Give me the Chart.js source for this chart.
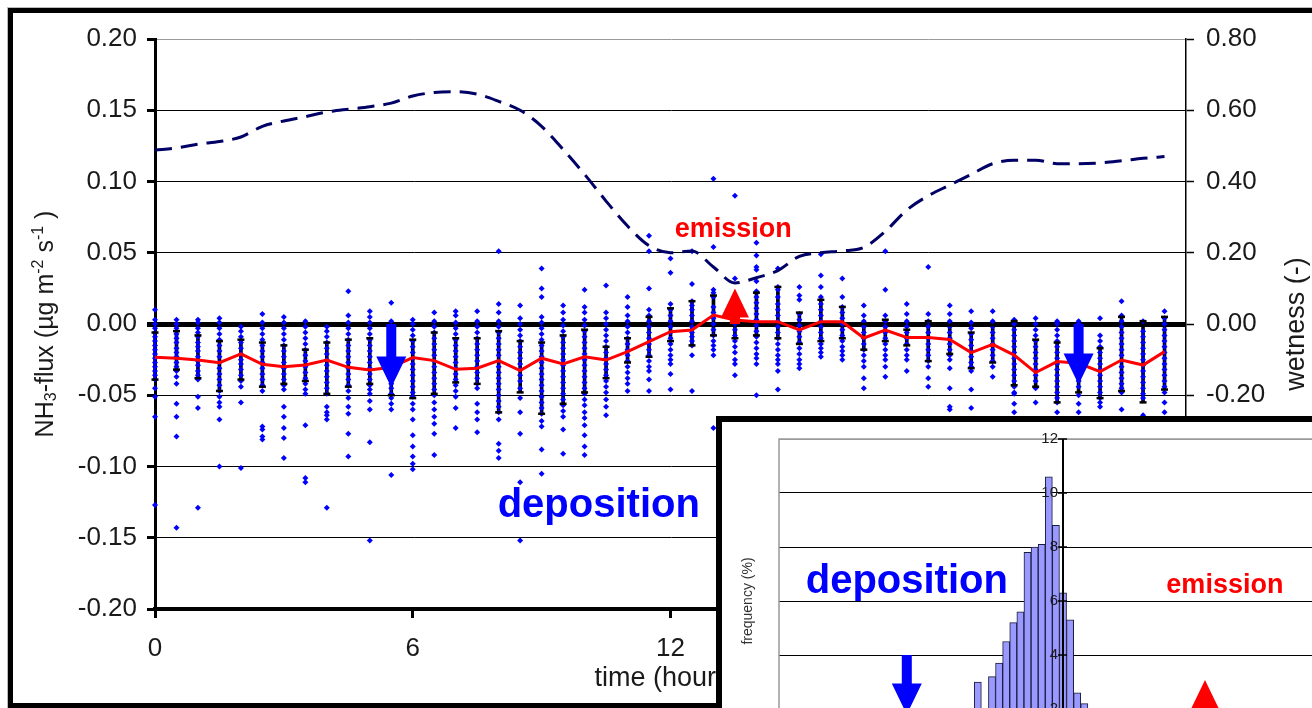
<!DOCTYPE html>
<html>
<head>
<meta charset="utf-8">
<script src="https://cdn.jsdelivr.net/npm/chart.js@4.4.1/dist/chart.umd.min.js"></script>
<style>
  html, body { margin: 0; padding: 0; background: #fff; }
  body { width: 1312px; height: 708px; overflow: hidden; position: relative; }
  #frame { position: absolute; left: 8px; top: 8px; width: 1400px; height: 690px; border: 5px solid #000; box-shadow: 0 0 0 1px #bbb; }
  #main { position: absolute; left: 0; top: 0; }
  #insetBox { position: absolute; left: 716px; top: 416px; width: 700px; height: 400px; border: 6px solid #000; background: #fff; }
  #inset { position: absolute; left: 0; top: 0; }
</style>
</head>
<body>
<div id="frame"></div>
<canvas id="main" width="1312" height="708"></canvas>
<div id="insetBox"><canvas id="inset" width="680" height="400"></canvas></div>
<script>
// half-hour bins of the day
const hours = [0, 0.5, 1, 1.5, 2, 2.5, 3, 3.5, 4, 4.5, 5, 5.5, 6, 6.5, 7, 7.5, 8, 8.5, 9, 9.5, 10, 10.5, 11, 11.5,
  12, 12.5, 13, 13.5, 14, 14.5, 15, 15.5, 16, 16.5, 17, 17.5, 18, 18.5, 19, 19.5, 20, 20.5, 21, 21.5, 22, 22.5, 23, 23.5];
const hourTicks = [0, 6, 12, 18, 24];

// single NH3 flux observations per bin, in 0.001 µg m-2 s-1
const fluxObs = [
  [10, 3, 0, -3, -6, -9, -12, -15, -18, -21, -24, -27, -30, -33, -36, -39, -45, -51, -65, -127],
  [3, 0, -3, -7, -10, -13, -17, -20, -23, -27, -30, -33, -37, -42, -56, -65, -79, -143],
  [3, 1, -3, -6, -9, -13, -16, -19, -23, -26, -29, -33, -36, -39, -51, -59, -129],
  [4, 1, -3, -7, -11, -15, -19, -23, -27, -31, -35, -39, -43, -47, -51, -55, -58, -67, -100],
  [-2, -5, -9, -13, -17, -21, -25, -28, -32, -36, -40, -44, -55, -101],
  [7, 1, -3, -7, -11, -15, -19, -23, -27, -31, -35, -39, -43, -47, -72, -74, -79, -81],
  [5, 1, -3, -7, -11, -15, -19, -23, -27, -31, -35, -39, -43, -46, -58, -65, -73, -80, -94],
  [2, -2, -6, -10, -14, -18, -22, -26, -30, -34, -38, -42, -46, -49, -71, -108, -111],
  [-2, -5, -9, -13, -17, -21, -25, -29, -33, -37, -41, -45, -49, -58, -62, -64, -67, -129],
  [23, 6, 1, -3, -7, -11, -15, -19, -23, -27, -31, -35, -39, -43, -47, -52, -58, -63, -77, -93],
  [9, 5, 1, -3, -7, -11, -15, -19, -23, -27, -31, -35, -39, -43, -46, -49, -54, -60, -83, -152],
  [15, 2, -2, -6, -10, -14, -18, -22, -26, -30, -34, -38, -42, -45, -49, -52, -56, -60, -106],
  [3, 0, -4, -8, -12, -16, -20, -24, -28, -32, -36, -40, -44, -48, -51, -56, -60, -67, -78, -86, -93, -98, -102],
  [8, 2, -2, -6, -10, -14, -18, -22, -26, -30, -34, -38, -42, -46, -50, -55, -60, -65, -70, -77, -92],
  [9, 6, 1, -3, -7, -11, -15, -19, -23, -27, -31, -35, -39, -43, -47, -51, -59, -73],
  [9, 2, -2, -6, -10, -14, -18, -22, -26, -30, -34, -38, -42, -45, -56, -62, -67, -76],
  [51, 14, 8, 2, -2, -6, -10, -14, -18, -22, -26, -30, -34, -38, -42, -46, -50, -54, -58, -62, -67, -84, -89, -94],
  [13, 4, 0, -4, -8, -12, -16, -20, -24, -28, -32, -36, -40, -45, -52, -62, -77, -111, -152],
  [39, 25, 19, 5, 1, -3, -7, -11, -15, -19, -23, -27, -31, -35, -39, -43, -47, -51, -55, -59, -63, -68, -72, -88, -105],
  [13, 8, 3, -1, -5, -9, -13, -17, -21, -25, -29, -33, -37, -41, -45, -49, -53, -57, -61, -65, -74, -91],
  [24, 12, 8, 3, -1, -5, -9, -13, -17, -21, -25, -29, -33, -37, -41, -45, -49, -53, -57, -62, -66, -71, -78, -86, -92],
  [27, 8, 4, 0, -4, -8, -12, -16, -20, -24, -28, -32, -36, -40, -44, -48, -53, -58, -64],
  [19, 12, 6, 2, -2, -6, -10, -14, -18, -22, -26, -30, -34, -38, -42, -47],
  [62, 51, 25, 10, 6, 2, -2, -6, -10, -14, -18, -22, -26, -30, -33, -39, -47],
  [46, 36, 14, 10, 6, 2, -2, -6, -10, -14, -18, -22, -25, -28, -35, -46],
  [51, 28, 16, 13, 10, 6, 2, -2, -6, -9, -12, -15, -22, -47],
  [102, 54, 24, 22, 19, 12, 8, 4, 0, -4, -8, -12, -15, -18, -22, -73],
  [90, 32, 20, 12, 8, 4, 0, -4, -8, -12, -16, -20, -25, -28, -36],
  [57, 48, 40, 38, 30, 23, 19, 15, 11, 7, 3, -1, -5, -9, -13, -17, -21, -24, -28, -50],
  [39, 26, 24, 19, 14, 10, 6, 2, -2, -6, -10, -14, -18, -22, -25, -28, -33, -46],
  [26, 20, 17, 7, 3, -1, -5, -9, -13, -17, -21, -25, -28, -31],
  [49, 34, 26, 19, 14, 10, 6, 2, -2, -6, -10, -14, -17, -20, -23],
  [32, 19, 12, 8, 4, 0, -4, -8, -12, -16, -19, -22, -25],
  [13, 6, 2, -2, -6, -10, -14, -18, -22, -26, -30, -38, -45],
  [51, 24, 6, 2, -2, -6, -10, -14, -18, -22, -25, -30, -37],
  [14, 7, 2, -2, -6, -10, -14, -18, -22, -25, -33],
  [40, 7, 2, -2, -6, -10, -14, -18, -22, -26, -30, -38, -44],
  [13, 7, 2, -2, -6, -10, -14, -18, -22, -25, -31, -45, -58, -60],
  [9, 1, -3, -7, -11, -15, -19, -23, -27, -30, -33, -46, -59],
  [9, 2, -2, -6, -10, -14, -18, -22, -26, -30, -37],
  [3, 0, -4, -8, -12, -16, -20, -24, -28, -32, -36, -40, -44, -48, -49, -56, -62],
  [4, 0, -4, -8, -12, -16, -20, -24, -28, -32, -36, -40, -45, -55],
  [2, 0, -4, -8, -12, -16, -20, -24, -28, -32, -36, -40, -44, -48, -52, -55, -62],
  [2, 0, -4, -8, -12, -16, -20, -24, -28, -32, -36, -40, -44, -50, -56, -62],
  [4, -8, -12, -16, -20, -24, -28, -32, -36, -40, -44, -48, -52, -55, -58],
  [16, 6, 2, -2, -6, -10, -14, -18, -22, -26, -30, -34, -38, -42, -45, -48, -60],
  [2, -5, -9, -13, -17, -21, -25, -29, -33, -37, -41, -45, -49, -52, -64],
  [9, 4, 0, -4, -8, -12, -16, -20, -24, -28, -32, -36, -40, -44, -48, -55, -62]
];

// mean flux per bin and the black bars around it (0.001 µg m-2 s-1)
const meanFlux = [-23.4, -24.1, -25.3, -27.1, -21.0, -28.3, -30.0, -28.8, -25.3, -30.4, -32.3, -30.4,
  -23.6, -25.7, -31.8, -31.0, -25.7, -32.7, -24.0, -28.0, -23.0, -25.3, -19.4, -12.4,
  -5.4, -4.2, 6.3, 2.8, 1.6, 1.6, -4.2, 1.6, 1.6, -9.8, -4.2, -9.4,
  -9.4, -10.8, -20.1, -14.3, -21.8, -34.1, -26.4, -27.6, -33.4, -25.3, -28.8, -19.4];
const errLow = [-39, -32, -38, -47, -39, -44, -42, -40, -49, -44, -42, -50, -52, -49, -41, -42, -62, -48, -63, -56, -48, -38, -27, -23,
  -12, -15, -8, -10, -8, -10, -14, -12, -10, -18, -12, -15, -26, -21, -31, -27, -43, -44, -55, -48, -52, -47, -55, -46];
const errHigh = [-6, -5, -8, -12, -11, -13, -15, -18, -13, -11, -10, -10, -11, -6, -10, -10, -5, -12, -13, -8, -4, -16, -10, 5,
  11, 16, 20, 14, 22, 26, 8, 17, 12, 0, 3, -4, 2, -1, -6, -1, 2, -11, -13, -7, -17, 5, 2, 5];

// leaf wetness (-), right axis
const wetness = [0.488, 0.494, 0.505, 0.512, 0.525, 0.555, 0.570, 0.582, 0.595, 0.603, 0.610, 0.620,
  0.640, 0.650, 0.652, 0.645, 0.625, 0.600, 0.555, 0.490, 0.420, 0.345, 0.275, 0.220,
  0.200, 0.205, 0.160, 0.115, 0.130, 0.150, 0.190, 0.200, 0.205, 0.215, 0.260, 0.320,
  0.360, 0.390, 0.420, 0.450, 0.460, 0.460, 0.450, 0.450, 0.452, 0.458, 0.465, 0.470];

// inset histogram: flux bin centres (µg m-2 s-1) and frequency (%)
const histBins = [-0.100, -0.095, -0.090, -0.085, -0.080, -0.075, -0.070, -0.065, -0.060, -0.055, -0.050,
  -0.045, -0.040, -0.035, -0.030, -0.025, -0.020, -0.015, -0.010, -0.005, 0.000,
  0.005, 0.010, 0.015, 0.020, 0.025, 0.030, 0.035, 0.040, 0.045, 0.050];
const histFreq = [0.3, 0.4, 0.5, 0.6, 0.8, 1.0, 1.3, 1.6, 3.0, 1.8, 3.2,
  3.7, 4.5, 5.2, 5.6, 7.8, 8.0, 8.1, 10.6, 8.8, 6.3,
  5.3, 2.6, 2.2, 1.4, 0.9, 0.6, 0.4, 0.3, 0.2, 0.2];

const FONT = "'Liberation Sans', Arial, Helvetica, sans-serif";
const TXT = '#1a1a1a';
const isZero = v => Math.abs(v) < 1e-9;
const fmt2 = v => isZero(v) ? '0.00' : v.toFixed(2);

function drawArrow(ctx, x, yBase, yTip, color, shaftW, headW, headL) {
  const dir = Math.sign(yTip - yBase);
  const yNeck = yTip - dir * headL;
  ctx.save();
  ctx.fillStyle = color;
  ctx.beginPath();
  ctx.moveTo(x - shaftW / 2, yBase);
  ctx.lineTo(x - shaftW / 2, yNeck);
  ctx.lineTo(x - headW / 2, yNeck);
  ctx.lineTo(x, yTip);
  ctx.lineTo(x + headW / 2, yNeck);
  ctx.lineTo(x + shaftW / 2, yNeck);
  ctx.lineTo(x + shaftW / 2, yBase);
  ctx.closePath();
  ctx.fill();
  ctx.restore();
}

// rotated text made of pieces, for sub- and superscripts
function drawRotated(ctx, cx, cy, pieces, size) {
  ctx.save();
  ctx.translate(cx, cy);
  ctx.rotate(-Math.PI / 2);
  ctx.fillStyle = TXT;
  ctx.textBaseline = 'middle';
  ctx.textAlign = 'left';
  let total = 0;
  pieces.forEach(p => {
    ctx.font = (p.s ? Math.round(size * 0.65) : size) + 'px ' + FONT;
    p.w = ctx.measureText(p.t).width;
    total += p.w;
  });
  let x = -total / 2;
  pieces.forEach(p => {
    ctx.font = (p.s ? Math.round(size * 0.65) : size) + 'px ' + FONT;
    ctx.fillText(p.t, x, (p.dy || 0) * size);
    x += p.w;
  });
  ctx.restore();
}

const mainOverlay = {
  id: 'mainOverlay',
  afterDatasetsDraw(chart) {
    const { ctx, chartArea, scales: { x, y } } = chart;
    const y0 = y.getPixelForValue(0);
    drawArrow(ctx, x.getPixelForValue(5.5), y0, y.getPixelForValue(-0.0445), '#0000ff', 10, 30, 31);
    drawArrow(ctx, x.getPixelForValue(21.5), y0, y.getPixelForValue(-0.0425), '#0000ff', 10, 30, 31);
    drawArrow(ctx, x.getPixelForValue(13.5), y0, y.getPixelForValue(0.025), '#ff0000', 10, 28, 29);

    ctx.save();
    ctx.textAlign = 'center';
    ctx.textBaseline = 'alphabetic';
    ctx.fillStyle = '#ff0000';
    ctx.font = 'bold 27px ' + FONT;
    ctx.fillText('emission', x.getPixelForValue(13.46), y.getPixelForValue(0.061));
    ctx.fillStyle = '#0000ff';
    ctx.font = 'bold 40px ' + FONT;
    ctx.fillText('deposition', x.getPixelForValue(10.33), y.getPixelForValue(-0.1354));

    ctx.fillStyle = TXT;
    ctx.textBaseline = 'middle';
    ctx.font = '27px ' + FONT;
    ctx.fillText('time (hours)', (chartArea.left + chartArea.right) / 2 - 4, 679);
    ctx.restore();

    const midY = (chartArea.top + chartArea.bottom) / 2;
    drawRotated(ctx, 46, midY, [
      { t: 'NH' }, { t: '3', s: true, dy: 0.22 }, { t: '-flux (\u00b5g m' },
      { t: '-2', s: true, dy: -0.3 }, { t: ' s' }, { t: '-1', s: true, dy: -0.3 }, { t: ' )' }
    ], 25);
    drawRotated(ctx, 1297, midY, [{ t: 'wetness (-)' }], 27);
  }
};

const obsPoints = [];
hours.forEach((h, i) => fluxObs[i].forEach(v => obsPoints.push({ x: h, y: v / 1000 })));
const capPoints = [];
hours.forEach((h, i) => {
  capPoints.push({ x: h, y: errLow[i] / 1000 });
  capPoints.push({ x: h, y: errHigh[i] / 1000 });
});

new Chart(document.getElementById('main'), {
  type: 'scatter',
  data: {
    datasets: [
      {
        type: 'line', label: 'wetness', yAxisID: 'y2', order: 0,
        data: hours.map((h, i) => ({ x: h, y: wetness[i] })),
        borderColor: '#000066', borderWidth: 3, borderDash: [17, 9],
        pointRadius: 0, cubicInterpolationMode: 'monotone', fill: false
      },
      {
        type: 'line', label: 'mean flux', yAxisID: 'y', order: 1,
        data: hours.map((h, i) => ({ x: h, y: meanFlux[i] / 1000 })),
        borderColor: '#ff0000', borderWidth: 3, pointRadius: 0, tension: 0, fill: false
      },
      {
        type: 'scatter', label: 'caps', yAxisID: 'y', order: 2, clip: false,
        data: capPoints, pointStyle: 'line', pointRadius: 3.5, borderWidth: 2.5, borderColor: '#000'
      },
      {
        type: 'scatter', label: 'observations', yAxisID: 'y', order: 3, clip: false,
        data: obsPoints, pointStyle: 'rectRot', pointRadius: 3,
        backgroundColor: '#0000ff', borderColor: '#0000ff', borderWidth: 0
      },
      {
        type: 'bar', label: 'spread', yAxisID: 'y', order: 4, clip: false,
        data: hours.map((h, i) => ({ x: h, y: [errLow[i] / 1000, errHigh[i] / 1000] })),
        backgroundColor: '#000', barThickness: 3
      }
    ]
  },
  options: {
    responsive: false,
    animation: false,
    events: [],
    layout: { padding: { top: 39, left: 0, right: 0, bottom: 0 } },
    plugins: { legend: { display: false }, tooltip: { enabled: false } },
    scales: {
      x: {
        type: 'linear', min: 0, max: 24, offset: false,
        afterFit: s => { s.height = 99; },
        afterBuildTicks: s => { s.ticks = hourTicks.map(v => ({ value: v })); },
        ticks: { autoSkip: false, maxRotation: 0, color: TXT, font: { family: FONT, size: 26 }, padding: 15 },
        grid: { offset: false, drawOnChartArea: false, drawTicks: true, tickLength: 9, tickWidth: 3, tickColor: '#000' },
        border: { display: true, color: '#000', width: 4 }
      },
      y: {
        type: 'linear', position: 'left', min: -0.2, max: 0.2,
        afterFit: s => { s.width = 155; },
        ticks: { stepSize: 0.05, callback: fmt2, color: TXT, font: { family: FONT, size: 26 }, padding: 10 },
        grid: {
          color: c => (c.tick && c.tick.value > 0.199) ? '#9a9a9a' : '#000',
          lineWidth: c => (c.tick && isZero(c.tick.value)) ? 5 : 1,
          tickColor: '#000',
          tickWidth: c => (c.tick && isZero(c.tick.value)) ? 5 : 3,
          tickLength: 8
        },
        border: { display: true, color: '#000', width: 3 }
      },
      y2: {
        type: 'linear', position: 'right', min: -0.8, max: 0.8,
        afterFit: s => { s.width = 126; },
        ticks: { stepSize: 0.2, callback: fmt2, color: TXT, font: { family: FONT, size: 26 }, padding: 12 },
        grid: { drawOnChartArea: false, tickLength: 8, tickWidth: 1.5, tickColor: '#000' },
        border: { display: true, color: '#000', width: 1.5 }
      }
    }
  },
  plugins: [mainOverlay]
});

const insetOverlay = {
  id: 'insetOverlay',
  beforeDatasetsDraw(chart) {
    const { ctx, chartArea: a } = chart;
    ctx.save();
    ctx.strokeStyle = '#9a9a9a';
    ctx.lineWidth = 1.5;
    ctx.strokeRect(a.left, a.top, a.right - a.left, a.bottom - a.top);
    ctx.restore();
  },
  afterDatasetsDraw(chart) {
    const { ctx, chartArea: a, scales: { x, y } } = chart;
    const px0 = x.getPixelForValue(0);
    ctx.save();
    ctx.strokeStyle = '#000';
    ctx.lineWidth = 2;
    ctx.beginPath();
    ctx.moveTo(px0, a.top);
    ctx.lineTo(px0, a.bottom);
    ctx.stroke();
    ctx.lineWidth = 1.5;
    ctx.fillStyle = TXT;
    ctx.font = '15px ' + FONT;
    ctx.textAlign = 'right';
    ctx.textBaseline = 'middle';
    y.ticks.forEach(t => {
      const py = y.getPixelForValue(t.value);
      ctx.beginPath();
      ctx.moveTo(px0 - 5, py);
      ctx.lineTo(px0 + 4, py);
      ctx.stroke();
      ctx.fillText(String(t.value), px0 - 5, py);
    });

    ctx.textAlign = 'center';
    ctx.textBaseline = 'alphabetic';
    ctx.fillStyle = '#0000ff';
    ctx.font = 'bold 40px ' + FONT;
    ctx.fillText('deposition', x.getPixelForValue(-0.11), y.getPixelForValue(6.3));
    ctx.fillStyle = '#ff0000';
    ctx.font = 'bold 27px ' + FONT;
    ctx.fillText('emission', x.getPixelForValue(0.114), y.getPixelForValue(6.3));
    ctx.restore();

    drawArrow(ctx, x.getPixelForValue(-0.11), y.getPixelForValue(4), y.getPixelForValue(1.8), '#0000ff', 10, 30, 31);
    drawArrow(ctx, x.getPixelForValue(0.1), y.getPixelForValue(0), y.getPixelForValue(3.07), '#ff0000', 10, 30, 31);

    ctx.save();
    ctx.translate(26, (a.top + a.bottom) / 2);
    ctx.rotate(-Math.PI / 2);
    ctx.fillStyle = '#333';
    ctx.font = '14px ' + FONT;
    ctx.textAlign = 'center';
    ctx.textBaseline = 'middle';
    ctx.fillText('frequency (%)', 0, 0);
    ctx.restore();
  }
};

new Chart(document.getElementById('inset'), {
  type: 'bar',
  data: {
    datasets: [{
      label: 'frequency',
      data: histBins.map((b, i) => ({ x: b, y: histFreq[i] })),
      backgroundColor: '#9999ff', borderColor: '#1a1a3a', borderWidth: 1,
      barPercentage: 1, categoryPercentage: 1
    }]
  },
  options: {
    responsive: false,
    animation: false,
    events: [],
    layout: { padding: { left: 57, top: 17, right: 55, bottom: 59 } },
    plugins: { legend: { display: false }, tooltip: { enabled: false } },
    scales: {
      x: { type: 'linear', min: -0.2, max: 0.2, offset: false, display: false },
      y: {
        min: 0, max: 12,
        ticks: { display: false, stepSize: 2 },
        grid: { drawTicks: false, color: c => (c.tick && c.tick.value === 12) ? '#9a9a9a' : '#000', lineWidth: 1 },
        border: { display: false }
      }
    }
  },
  plugins: [insetOverlay]
});
</script>
</body>
</html>
